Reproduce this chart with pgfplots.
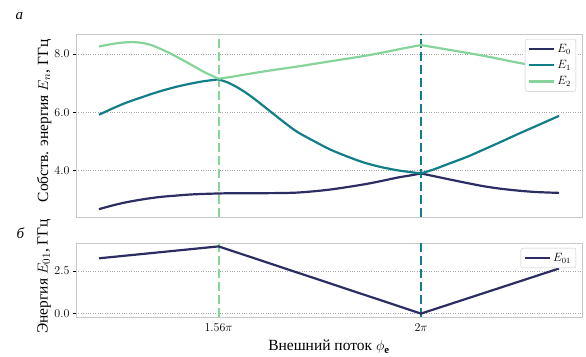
\documentclass[border=0pt]{standalone}
\usepackage{fontspec}
\setmainfont{Liberation Serif}
\usepackage{pgfplots}
\pgfplotsset{compat=1.18}
\definecolor{cE0}{RGB}{44,45,98}
\definecolor{cE1}{RGB}{18,126,135}
\definecolor{cE2}{RGB}{134,212,154}
\definecolor{frm}{RGB}{200,200,200}
\pgfplotsset{
 myaxis/.style={scale only axis, width=506pt, xmin=1.25, xmax=2.35,
  axis line style={frm, line width=0.9pt},
  ymajorgrids, grid style={dotted, gray!70, line width=0.6pt},
  ytick style={black, line width=0.8pt}, major tick length=3pt, tick align=outside,
  ytick pos=left, xtick pos=bottom,
  xtick style={draw=none},
  xtick={1.56,2},
  tick label style={font=\fontsize{13}{15}\selectfont},
  yticklabel style={/pgf/number format/.cd, fixed, fixed zerofill, precision=1},
  legend style={draw=frm, rounded corners=2pt, fill=white, font=\fontsize{12}{14}\selectfont,
    legend cell align=left, at={(axis description cs:1,1)}, anchor=north east,
    xshift=-6pt, yshift=-5pt, inner sep=3pt},
  legend image code/.code={\draw[#1, line width=2.2pt] (0pt,0pt) -- (25pt,0pt);},
  label style={font=\fontsize{15.5}{18}\selectfont},
  curve/.style={line width=2.2pt, smooth, tension=0.5},
  vdash/.style={line width=2pt, dash pattern=on 9pt off 4pt, forget plot},
 }
}
\begin{document}
\begin{tikzpicture}
\path[use as bounding box] (0,0) rectangle (586pt,356pt);
\begin{axis}[myaxis, at={(76pt,139pt)}, anchor=south west, height=183pt,
  ymin=2.39, ymax=8.69, ytick={4,6,8}, xticklabels={},
  ylabel={Собств. энергия $E_n$, ГГц},
  ylabel style={at={(axis description cs:-0.063,0.525)}, anchor=center},
  legend style={row sep=2.5pt}]
\addplot[cE2, vdash] coordinates {(1.56,2.39) (1.56,8.69)};
\addplot[cE1, vdash] coordinates {(2.0,2.39) (2.0,8.69)};
\addplot[cE0, curve] coordinates {
(1.30,2.66) (1.33,2.79) (1.36,2.90) (1.40,3.01) (1.433,3.08) (1.47,3.13) (1.505,3.17) (1.56,3.20)
(1.60,3.21) (1.66,3.21) (1.73,3.23) (1.80,3.33) (1.875,3.51) (1.92,3.65) (1.95,3.75) (1.98,3.83) (2.0,3.89)};
\addlegendentry{$E_0$}
\addplot[cE1, curve] coordinates {
(1.30,5.91) (1.33,6.13) (1.36,6.33) (1.40,6.55) (1.433,6.72) (1.47,6.88) (1.505,7.00) (1.53,7.07) (1.56,7.13)};
\addlegendentry{$E_1$}
\addplot[cE2, curve] coordinates {
(1.30,8.26) (1.33,8.35) (1.355,8.40) (1.375,8.41) (1.395,8.38) (1.415,8.30) (1.435,8.17) (1.455,8.02)
(1.48,7.81) (1.505,7.59) (1.53,7.37) (1.56,7.15)};
\addlegendentry{$E_2$}
\addplot[cE0, curve, forget plot] coordinates {
(2.0,3.89) (2.03,3.79) (2.063,3.68) (2.10,3.56) (2.136,3.45) (2.17,3.37) (2.21,3.30) (2.25,3.25) (2.30,3.22)};
\addplot[cE1, curve, forget plot] coordinates {
(1.56,7.13) (1.58,7.02) (1.60,6.86) (1.62,6.66) (1.64,6.43) (1.66,6.18) (1.68,5.93) (1.70,5.68)
(1.73,5.33) (1.77,4.98) (1.803,4.71) (1.84,4.47) (1.875,4.27) (1.91,4.12) (1.948,4.00) (1.975,3.94) (2.0,3.89)};
\addplot[cE1, curve, forget plot] coordinates {
(2.0,3.89) (2.03,4.04) (2.063,4.24) (2.10,4.46) (2.136,4.71) (2.17,4.95) (2.21,5.24) (2.25,5.52) (2.30,5.87)};
\addplot[cE2, curve, forget plot] coordinates {
(1.56,7.15) (1.586,7.21) (1.658,7.40) (1.731,7.57) (1.803,7.75) (1.875,7.93)
(1.926,8.08) (1.96,8.19) (2.0,8.31)};
\addplot[cE2, curve, forget plot] coordinates {
(2.0,8.31) (2.063,8.14) (2.136,7.94) (2.215,7.69) (2.30,7.45)};
\end{axis}
\begin{axis}[myaxis, at={(76pt,39pt)}, anchor=south west, height=74pt,
  ymin=-0.2, ymax=4.15, ytick={0,2.5}, xticklabels={$1.56\pi$,$2\pi$},
  ylabel={Энергия $E_{01}$, ГГц},
  ylabel style={at={(axis description cs:-0.063,0.55)}, anchor=center},
  xlabel={Внешний поток $\phi_{\mathbf{e}}$},
  xlabel style={at={(axis description cs:0.5,-0.405)}, anchor=center}]
\addplot[cE2, vdash] coordinates {(1.56,-0.2) (1.56,4.15)};
\addplot[cE1, vdash] coordinates {(2.0,-0.2) (2.0,4.15)};
\addplot[cE0, line width=2.2pt] coordinates {(1.30,3.25) (1.56,3.95) (2.0,0.0) (2.30,2.65)};
\addlegendentry{$E_{01}$}
\end{axis}
\node[font=\fontsize{15}{17}\selectfont\itshape] at (19.5pt,340pt) {а};
\node[font=\fontsize{15}{17}\selectfont\itshape] at (20.5pt,123pt) {б};
\end{tikzpicture}
\end{document}
